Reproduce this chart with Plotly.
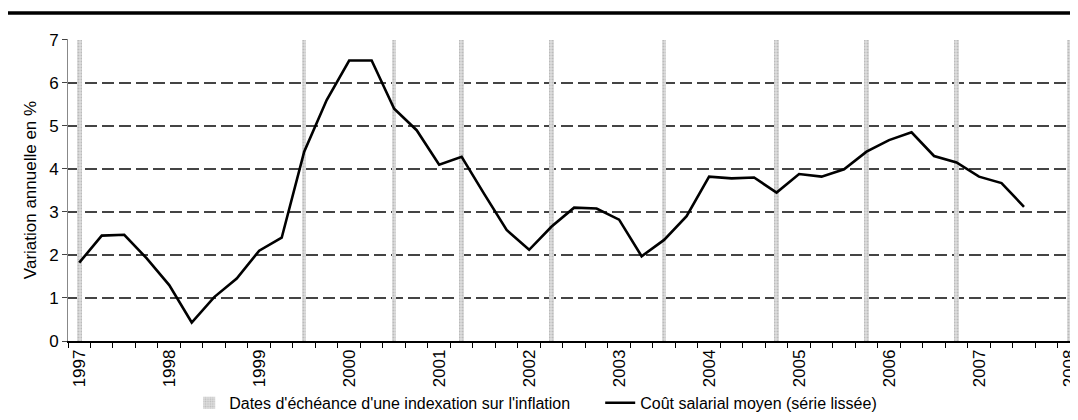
import plotly.graph_objects as go

# Quarterly categories 1997T1 .. 2008T1
years = ["1997", "1998", "1999", "2000", "2001", "2002",
         "2003", "2004", "2005", "2006", "2007", "2008"]
quarters = [f"{y}T{q}" for y in years for q in (1, 2, 3, 4)][:45]

# Coût salarial moyen (série lissée) - annual change in %, 1997T1..2007T3
cout_salarial = [1.82, 2.45, 2.47, 1.92, 1.30, 0.43, 1.02, 1.45,
                 2.10, 2.40, 4.40, 5.60, 6.52, 6.52, 5.40, 4.90,
                 4.10, 4.28, 3.42, 2.58, 2.12, 2.66, 3.10, 3.08,
                 2.82, 1.97, 2.35, 2.90, 3.82, 3.78, 3.80, 3.45,
                 3.88, 3.82, 3.99, 4.40, 4.67, 4.85, 4.30, 4.15,
                 3.82, 3.67, 3.12]

# Dates d'échéance d'une indexation sur l'inflation
indexation_dates = ["1997T1", "1999T3", "2000T3", "2001T2", "2002T2",
                    "2003T3", "2004T4", "2005T4", "2006T4", "2008T1"]
indexation_height = [7, 7, 7, 7, 7, 7, 7, 7, 7, 7]

y_ticks = [0, 1, 2, 3, 4, 5, 6, 7]

x_line = [quarters.index(q) for q in quarters[:len(cout_salarial)]]
x_bars = [quarters.index(q) for q in indexation_dates]
x_year_ticks = [quarters.index(f"{y}T1") for y in years]

FONT = "Liberation Sans, Arial, sans-serif"

fig = go.Figure()
fig.add_trace(go.Bar(
    x=x_bars, y=indexation_height, width=0.2,
    name="Dates d'échéance d'une indexation sur l'inflation",
    marker=dict(color="#cfcfcf", line=dict(width=0),
                pattern=dict(shape=".", fgcolor="#9a9a9a", bgcolor="#dddddd",
                             size=3, solidity=0.35)),
))
fig.add_trace(go.Scatter(
    x=x_line, y=cout_salarial, mode="lines",
    name="Coût salarial moyen (série lissée)",
    line=dict(color="black", width=2.6),
))

# page body has an 8px margin: figure is 1070x412 so that it fills the window
fig.update_layout(
    width=1070, height=412,
    margin=dict(l=60, r=0, t=31, b=70),
    paper_bgcolor="white", plot_bgcolor="white",
    font=dict(family=FONT, color="black", size=17),
    showlegend=True,
    legend=dict(orientation="h", x=0.12, xanchor="left", y=-0.205, yanchor="middle",
                font=dict(family=FONT, size=16, color="black"),
                itemwidth=30, entrywidth=366, bgcolor="rgba(0,0,0,0)"),
    bargap=0,
)
fig.update_xaxes(
    range=[-0.5, 44.4], tickmode="array", tickvals=x_year_ticks, ticktext=years,
    tickangle=-90, ticks="", showgrid=False, zeroline=False,
    ticklabeloverflow="allow",
    showline=True, linecolor="black", linewidth=1.5,
    tickfont=dict(family=FONT, size=17, color="black"),
    minor=dict(tickmode="linear", tick0=-0.5, dtick=1, ticks="outside",
               ticklen=5, tickcolor="black", tickwidth=1, showgrid=False),
)
fig.update_yaxes(
    range=[0, 7.02], tickmode="array", tickvals=y_ticks,
    ticks="outside", ticklen=5, tickcolor="#444", tickwidth=1,
    showgrid=True, gridcolor="#444", gridwidth=1.8, griddash="12px,5px",
    zeroline=False, showline=True, linecolor="#888", linewidth=1,
    tickfont=dict(family=FONT, size=17, color="black"),
    title=dict(text="Variation annuelle en %", font=dict(family=FONT, size=17, color="black"),
               standoff=8),
)
fig.add_shape(type="line", xref="paper", yref="paper",
              x0=-0.06, x1=1.0, y0=1.086, y1=1.086,
              line=dict(color="black", width=3.5))

fig.write_html("out.html")
